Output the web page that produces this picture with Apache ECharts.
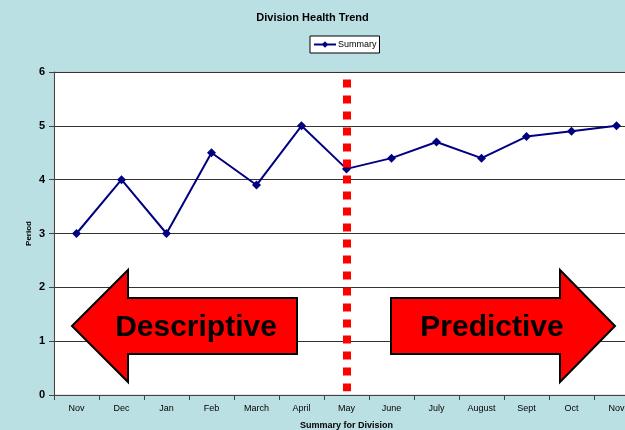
<!DOCTYPE html>
<html>
<head>
<meta charset="utf-8">
<script src="https://cdn.jsdelivr.net/npm/echarts@6/dist/echarts.min.js"></script>
<style>
  html, body { margin: 0; padding: 0; background: #bbe0e3; }
  #chart { width: 625px; height: 430px; }
</style>
</head>
<body>
<div id="chart"></div>
<script>
  // months along the x axis
  var months = ['Nov', 'Dec', 'Jan', 'Feb', 'March', 'April', 'May', 'June', 'July', 'August', 'Sept', 'Oct', 'Nov']
  // Summary series (period)
  var summary = [3, 4, 3, 4.5, 3.9, 5, 4.2, 4.4, 4.7, 4.4, 4.8, 4.9, 5]
  var yTicks = [0, 1, 2, 3, 4, 5, 6]
  // where the descriptive / predictive split is
  var splitMonth = 'May'

  var chart = echarts.init(document.getElementById('chart'))

  var font = 'Arial, "Liberation Sans", sans-serif'

  // arrow outline helper (pixels, annotation only)
  function arrow(dir, x0, x1, headX, cy) {
    // x0 = shaft far end, headX = head base, x1 = tip
    var sh = 28, hh = 56
    if (dir === 'left') {
      return [[x1, cy], [headX, cy - hh], [headX, cy - sh], [x0, cy - sh], [x0, cy + sh], [headX, cy + sh], [headX, cy + hh]]
    }
    return [[x0, cy - sh], [headX, cy - sh], [headX, cy - hh], [x1, cy], [headX, cy + hh], [headX, cy + sh], [x0, cy + sh]]
  }

  var option = {
    backgroundColor: '#bbe0e3',
    animation: false,
    title: {
      text: 'Division Health Trend',
      left: 'center',
      top: 7,
      textStyle: { fontFamily: font, fontSize: 11, fontWeight: 'bold', color: '#000' }
    },
    legend: {
      data: ['Summary'],
      top: 36,
      left: 310,
      backgroundColor: '#fff',
      borderColor: '#000',
      borderWidth: 1,
      borderRadius: 0,
      padding: [4, 3, 4, 3],
      itemWidth: 22,
      itemHeight: 8,
      itemGap: 2,
      textStyle: { fontFamily: font, fontSize: 9, color: '#000', padding: [0, 0, 0, -3] }
    },
    grid: {
      left: 54,
      top: 72,
      right: -14,
      height: 323,
      outerBoundsMode: 'none',
      show: true,
      backgroundColor: '#fff',
      borderColor: '#c8c8c8',
      borderWidth: 1
    },
    xAxis: {
      type: 'category',
      data: months,
      name: 'Summary for Division',
      nameLocation: 'middle',
      nameGap: 26,
      nameTextStyle: { fontFamily: font, fontSize: 9, fontWeight: 'bold', color: '#000' },
      axisLine: { lineStyle: { color: '#444', width: 1 } },
      axisTick: { show: true, length: 5, lineStyle: { color: '#444' } },
      axisLabel: { fontFamily: font, fontSize: 9, color: '#000', margin: 9, interval: 0 }
    },
    yAxis: {
      type: 'value',
      min: 0,
      max: 6,
      interval: 1,
      name: 'Period',
      nameLocation: 'middle',
      nameGap: 21,
      nameMoveOverlap: false,
      nameTextStyle: { fontFamily: font, fontSize: 8, fontWeight: 'bold', color: '#000' },
      axisLine: { show: true, lineStyle: { color: '#444', width: 1 } },
      axisTick: { show: true, length: 5, inside: false, lineStyle: { color: '#444' } },
      axisLabel: {
        fontFamily: font, fontSize: 11, fontWeight: 'bold', color: '#000', margin: 9,
        formatter: function (v) { return yTicks.indexOf(v) >= 0 ? String(v) : '' }
      },
      splitLine: { show: true, lineStyle: { color: '#333', width: 1 } }
    },
    series: [
      {
        name: 'Summary',
        type: 'line',
        data: summary,
        color: '#000080',
        symbol: 'diamond',
        symbolSize: 9,
        lineStyle: { width: 2, color: '#000080' },
        itemStyle: { color: '#000080' },
        z: 3,
        markLine: {
          silent: true,
          symbol: 'none',
          label: { show: false },
          lineStyle: { color: '#ff0000', width: 8, type: [8, 8] },
          data: [[{ coord: [splitMonth, 5.86] }, { coord: [splitMonth, 0.07] }]]
        }
      }
    ],
    graphic: [
      {
        type: 'polygon',
        shape: { points: arrow('left', 297, 72, 128, 326) },
        style: { fill: '#ff0000', stroke: '#000', lineWidth: 2 },
        z: 10
      },
      {
        type: 'text',
        x: 196, y: 328,
        style: { text: 'Descriptive', fontFamily: font, fontSize: 30, fontWeight: 'bold', fill: '#000', align: 'center', verticalAlign: 'middle' },
        z: 11
      },
      {
        type: 'polygon',
        shape: { points: arrow('right', 391, 615, 560, 326) },
        style: { fill: '#ff0000', stroke: '#000', lineWidth: 2 },
        z: 10
      },
      {
        type: 'text',
        x: 492, y: 328,
        style: { text: 'Predictive', fontFamily: font, fontSize: 30, fontWeight: 'bold', fill: '#000', align: 'center', verticalAlign: 'middle' },
        z: 11
      }
    ]
  }

  chart.setOption(option)
</script>
</body>
</html>
